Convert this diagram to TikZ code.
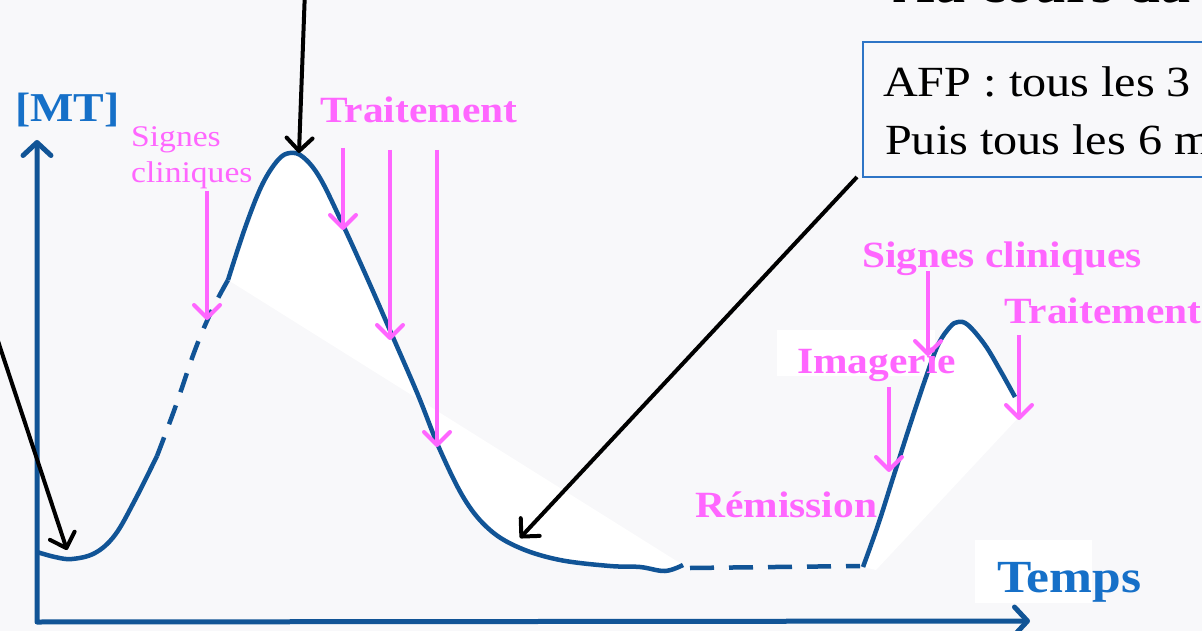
\documentclass[tikz,border=0pt]{standalone}
\usepackage{fontspec}
\setmainfont{Liberation Serif}[FakeStretch=1.12]
\usetikzlibrary{arrows.meta}
\definecolor{bg}{RGB}{248,248,250}
\definecolor{curveblue}{RGB}{17,84,150}
\definecolor{labelblue}{RGB}{22,112,200}
\definecolor{pinkc}{RGB}{255,102,255}
\definecolor{boxblue}{RGB}{46,117,198}
\begin{document}
\begin{tikzpicture}[x=1pt,y=-1pt,
  axisline/.style={draw=curveblue, line width=5pt, line cap=round, line join=round},
  curveline/.style={draw=curveblue, line width=4.5pt},
  dashline/.style={draw=curveblue, line width=4.5pt, dash pattern=on 20pt off 14pt},
  pinkarrow/.style={draw=pinkc, line width=4pt, -{Straight Barb[length=13pt,width=26pt,round]}},
  blackarrow/.style={draw=black, line width=4pt, -{Straight Barb[length=13pt,width=26pt,round]}},
  pinklabel/.style={text=pinkc, font=\fontsize{37}{40}\selectfont\bfseries, inner sep=0pt, anchor=base west},
  smallpink/.style={text=pinkc, font=\fontsize{30}{33}\selectfont, inner sep=0pt, anchor=base west},
  bluelabel/.style={text=labelblue, inner sep=0pt, anchor=base west},
  afptext/.style={text=black, font=\fontsize{43}{48}\selectfont, inner sep=0pt, anchor=base west}
]
\useasboundingbox (0,0) rectangle (1202,631);
\clip (0,0) rectangle (1202,631);
\fill[bg] (0,0) rectangle (1202,631);

% white areas
\fill[white] plot[smooth, tension=0.6] coordinates {(228,280) (245,228) (262,185) (278,160) (290,153) (303,157) (320,178) (343,225) (368,280) (392,335) (418,395) (440,450) (465,500) (490,530) (520,548) (560,560) (610,566) (640,567) (665,571) (683,565)} -- cycle;
\fill[white] plot[smooth, tension=0.6] coordinates {(863,567) (878,525) (893,478) (910,425) (925,380) (938,345) (950,327) (958,322) (968,325) (985,345) (1000,370) (1015,397)} -- (1018,418) -- (876,570) -- cycle;
\fill[white] (975,540) rectangle (1092,603);
\fill[white] (777,330) rectangle (935,376);

% top cut title
\node[anchor=base west, inner sep=0pt, font=\fontsize{51}{56}\selectfont\bfseries] (title) at (893,3) {Au cours du};

% axes
\coordinate (O) at (37,622);
\coordinate (ytip) at (37,140);
\coordinate (xtip) at (1030,621);
\draw[axisline, {Straight Barb[length=13pt,width=28pt,round]}-{Straight Barb[length=13pt,width=28pt,round]}] (ytip) -- (O) -- (xtip);

% curves
\draw[curveline] plot[smooth, tension=0.6] coordinates {(37,552) (55,557) (72,559) (95,553) (115,535) (135,500) (157,456)};
\draw[dashline] plot[smooth, tension=0.6] coordinates {(157,456) (175,408) (195,350) (212,310) (228,280)};
\draw[curveline] plot[smooth, tension=0.6] coordinates {(228,280) (245,228) (262,185) (278,160) (290,153) (303,157) (320,178) (343,225) (368,280) (392,335) (418,395) (440,450) (465,500) (490,530) (520,548) (560,560) (610,566) (640,567) (665,571) (683,565)};
\draw[dashline, dash pattern=on 24pt off 15pt] (690,568) -- (860,566);
\draw[curveline] plot[smooth, tension=0.6] coordinates {(863,567) (878,525) (893,478) (910,425) (925,380) (938,345) (950,327) (958,322) (968,325) (985,345) (1000,370) (1015,397)};

% labels
\node[bluelabel, font=\fontsize{41}{45}\selectfont\bfseries] (mt) at (15,122) {[MT]};
\node[bluelabel, font=\fontsize{46}{50}\selectfont\bfseries] (temps) at (997,592) {Temps};

\node[smallpink] (sc1a) at (131,147) {Signes};
\node[smallpink] (sc1b) at (131,183) {cliniques};
\node[pinklabel] (tr1) at (320,123) {Traitement};
\node[pinklabel] (sc2) at (862,267) {Signes cliniques};
\node[pinklabel] (tr2) at (1004,323) {Traitement};
\node[pinklabel] (img) at (797,373) {Imagerie};
\node[pinklabel] (rem) at (695,517) {Rémission};

% AFP box
\draw[boxblue, line width=1.5pt] (863,42) rectangle (1215,177);
\node[afptext] (afp1) at (883,97) {AFP : tous les 3};
\node[afptext] (afp2) at (885,155) {Puis tous les 6 m};

% pink arrows
\coordinate (p1s) at (207,191); \coordinate (p1e) at (207,320);
\coordinate (p2s) at (343,148); \coordinate (p2e) at (343,230);
\coordinate (p3s) at (390,150); \coordinate (p3e) at (390,340);
\coordinate (p4s) at (437,150); \coordinate (p4e) at (437,447);
\coordinate (p5s) at (928,271); \coordinate (p5e) at (928,356);
\coordinate (p6s) at (1019,335); \coordinate (p6e) at (1019,420);
\coordinate (p7s) at (889,387); \coordinate (p7e) at (889,472);
\draw[pinkarrow] (p1s) -- (p1e);
\draw[pinkarrow] (p2s) -- (p2e);
\draw[pinkarrow] (p3s) -- (p3e);
\draw[pinkarrow] (p4s) -- (p4e);
\draw[pinkarrow] (p5s) -- (p5e);
\draw[pinkarrow] (p6s) -- (p6e);
\draw[pinkarrow] (p7s) -- (p7e);

% black arrows
\coordinate (b1s) at (305,-10); \coordinate (b1e) at (299,153);
\coordinate (b2s) at (-3,338); \coordinate (b2e) at (67,550);
\coordinate (b3s) at (857,177); \coordinate (b3e) at (520,538);
\draw[blackarrow] (b1s) -- (b1e);
\draw[blackarrow] (b2s) -- (b2e);
\draw[blackarrow] (b3s) -- (b3e);
\end{tikzpicture}
\end{document}
